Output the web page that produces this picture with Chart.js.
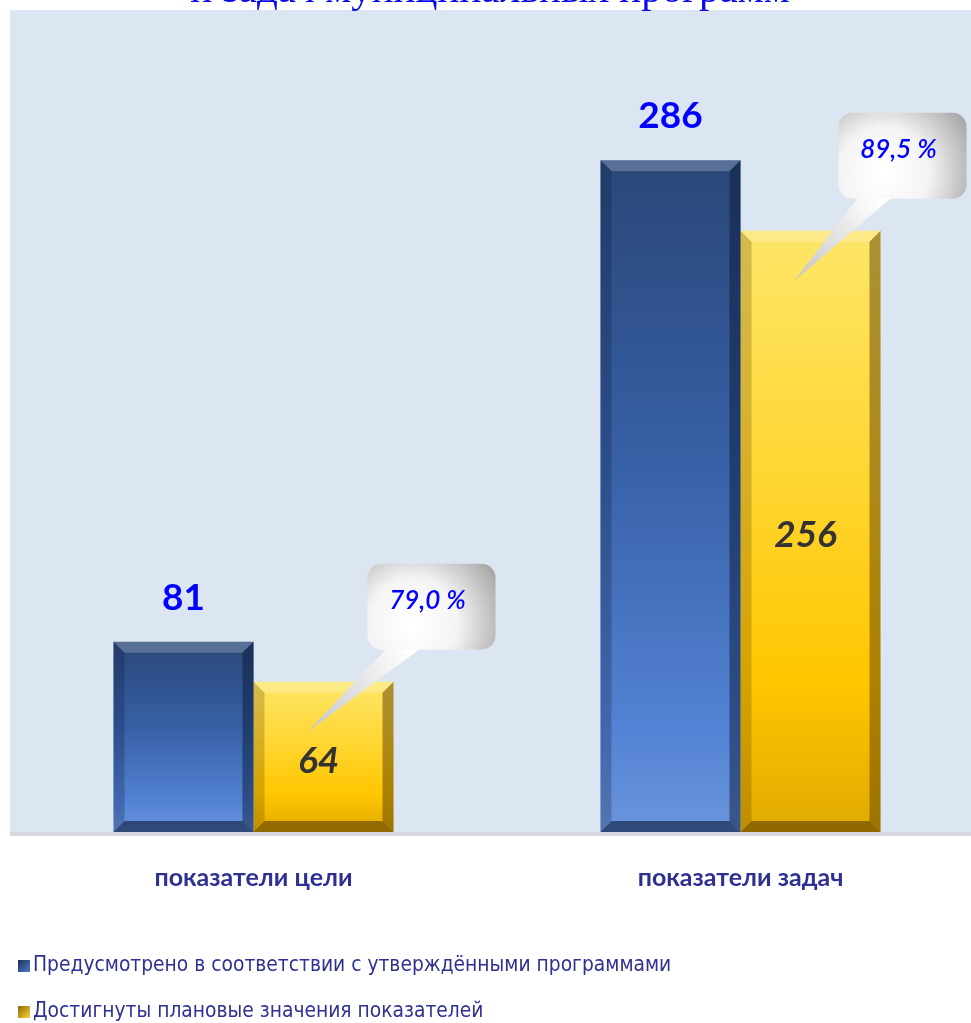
<!DOCTYPE html>
<html>
<head>
<meta charset="utf-8">
<script src="https://cdn.jsdelivr.net/npm/chart.js@4"></script>
<style>
  html, body { margin: 0; padding: 0; background: #ffffff; overflow: hidden; }
  #wrap { width: 971px; height: 1023px; overflow: hidden; }
</style>
</head>
<body>
<div id="wrap"><canvas id="goalsChart" width="984" height="1023"></canvas></div>
<script>
// данные с картинки
const categories = ['показатели цели', 'показатели задач'];
const plannedValues = [81, 286];
const achievedValues = [64, 256];
const percentLabels = ['79,0 %', '89,5 %'];
const seriesNames = [
  'Предусмотрено в соответствии с утверждёнными программами',
  'Достигнуты плановые значения показателей'
];
const titleText = 'и задач муниципальных программ';
const yMax = 350;

function barGradient(ctx, top, bottom, stops) {
  const g = ctx.createLinearGradient(0, top, 0, bottom);
  stops.forEach(s => g.addColorStop(s[0], s[1]));
  return g;
}

const blueStops = [[0, '#2a4778'], [0.45, '#3760a6'], [0.85, '#5383d4'], [1, '#6b95dc']];
const yellowStops = [[0, '#fde668'], [0.35, '#ffd83a'], [0.75, '#ffc600'], [1, '#e0aa00']];

// фон области графика, заголовок, легенда
const backdrop = {
  id: 'backdrop',
  beforeDraw(chart) {
    const { ctx, chartArea: a } = chart;
    ctx.save();
    ctx.fillStyle = '#dce6f2';
    ctx.fillRect(10, 10, 961, a.bottom - 10);
    ctx.fillStyle = '#d4d8de';
    ctx.fillRect(10, a.bottom, 961, 4);
    ctx.font = '41px "Liberation Serif"';
    ctx.fillStyle = '#0a0ae6';
    ctx.textAlign = 'center';
    ctx.textBaseline = 'alphabetic';
    ctx.fillText(titleText, 490, 2);

    // легенда в две строки
    ctx.textAlign = 'left';
    ctx.textBaseline = 'middle';
    ctx.font = '20.8px "DejaVu Sans Condensed"';
    seriesNames.forEach((name, i) => {
      const y = 966 + i * 46;
      const g = ctx.createLinearGradient(18, y - 6, 30, y + 6);
      if (i === 0) { g.addColorStop(0, '#1b2f55'); g.addColorStop(1, '#4f7cc8'); }
      else { g.addColorStop(0, '#8a6a00'); g.addColorStop(1, '#ffd43a'); }
      ctx.fillStyle = g;
      ctx.fillRect(18, y - 6, 12, 12);
      ctx.fillStyle = '#2e3192';
      ctx.fillText(name, 33, y);
    });
    ctx.restore();
  }
};

const calloutShift = [44, 28];

// объёмные фаски на столбиках, подписи и выноски
const bevel = {
  id: 'bevel',
  afterDatasetsDraw(chart) {
    const ctx = chart.ctx;
    chart.data.datasets.forEach((ds, di) => {
      chart.getDatasetMeta(di).data.forEach(bar => {
        const l = bar.x - bar.width / 2, r = bar.x + bar.width / 2;
        const t = bar.y, b = bar.base, e = 11;
        const dark = di === 0 ? 'rgba(10,25,55,' : 'rgba(90,60,0,';
        ctx.save();
        ctx.fillStyle = 'rgba(255,255,255,0.22)';
        ctx.beginPath(); ctx.moveTo(l, t); ctx.lineTo(r, t); ctx.lineTo(r - e, t + e); ctx.lineTo(l + e, t + e); ctx.fill();
        ctx.fillStyle = dark + '0.25)';
        ctx.beginPath(); ctx.moveTo(l, t); ctx.lineTo(l + e, t + e); ctx.lineTo(l + e, b - e); ctx.lineTo(l, b); ctx.fill();
        ctx.fillStyle = dark + '0.5)';
        ctx.beginPath(); ctx.moveTo(r, t); ctx.lineTo(r - e, t + e); ctx.lineTo(r - e, b - e); ctx.lineTo(r, b); ctx.fill();
        ctx.fillStyle = dark + '0.6)';
        ctx.beginPath(); ctx.moveTo(l, b); ctx.lineTo(l + e, b - e); ctx.lineTo(r - e, b - e); ctx.lineTo(r, b); ctx.fill();
        ctx.restore();
      });
    });

    const meta0 = chart.getDatasetMeta(0), meta1 = chart.getDatasetMeta(1);
    ctx.save();
    ctx.textAlign = 'center';
    ctx.textBaseline = 'middle';
    meta0.data.forEach((bar, i) => {
      ctx.font = 'bold 37px Lato';
      ctx.fillStyle = '#0000ff';
      ctx.fillText(String(plannedValues[i]), bar.x, bar.y - 44);
    });
    meta1.data.forEach((bar, i) => {
      ctx.font = 'italic bold 37px Lato';
      ctx.fillStyle = '#333333';
      ctx.fillText(String(achievedValues[i]), bar.x - 5, (bar.y + bar.base) / 2 + 4);

      // выноска
      const bx = bar.x + calloutShift[i], by = bar.y - 118, bw = 128, bh = 86;
      const tipX = bar.x - 16, tipY = bar.y + 50;
      const wg = ctx.createLinearGradient(tipX, tipY, bx + 40, by + bh);
      wg.addColorStop(0, '#c4c4c4');
      wg.addColorStop(1, '#ffffff');
      ctx.fillStyle = wg;
      ctx.beginPath();
      ctx.moveTo(bx + 20, by + bh - 2);
      ctx.lineTo(tipX, tipY);
      ctx.lineTo(bx + 54, by + bh - 2);
      ctx.fill();

      const g = ctx.createRadialGradient(bx + 45, by + bh * 0.7, 5, bx + 45, by + bh * 0.7, 95);
      g.addColorStop(0, '#ffffff');
      g.addColorStop(0.45, '#f4f4f4');
      g.addColorStop(1, '#a9a9a9');
      ctx.fillStyle = g;
      ctx.beginPath();
      ctx.roundRect(bx, by, bw, bh, 14);
      ctx.fill();

      ctx.font = 'italic 600 26px Lato';
      ctx.fillStyle = '#0000ff';
      ctx.fillText(percentLabels[i], bx + 60, by + 37);
    });
    ctx.restore();
  }
};

const chart = new Chart(document.getElementById('goalsChart'), {
  type: 'bar',
  data: {
    labels: categories,
    datasets: [
      {
        label: seriesNames[0],
        data: plannedValues,
        backgroundColor: c => {
          const a = c.chart.chartArea;
          if (!a) return '#3a62a8';
          const y = c.chart.scales.y;
          return barGradient(c.chart.ctx, y.getPixelForValue(c.raw), a.bottom, blueStops);
        },
        categoryPercentage: 0.575,
        barPercentage: 1
      },
      {
        label: seriesNames[1],
        data: achievedValues,
        backgroundColor: c => {
          const a = c.chart.chartArea;
          if (!a) return '#ffc600';
          const y = c.chart.scales.y;
          return barGradient(c.chart.ctx, y.getPixelForValue(c.raw), a.bottom, yellowStops);
        },
        categoryPercentage: 0.575,
        barPercentage: 1
      }
    ]
  },
  options: {
    responsive: false,
    animation: false,
    layout: { padding: { top: 10, left: 10, right: 0, bottom: 107 } },
    plugins: {
      title: { display: false },
      tooltip: { enabled: false },
      legend: { display: false }
    },
    scales: {
      x: {
        grid: { display: false },
        border: { display: false },
        ticks: {
          color: '#2e3192',
          padding: 23,
          font: { family: 'Lato', size: 25, weight: 'bold' }
        }
      },
      y: {
        display: false,
        min: 0,
        max: yMax
      }
    }
  },
  plugins: [backdrop, bevel]
});
</script>
</body>
</html>
